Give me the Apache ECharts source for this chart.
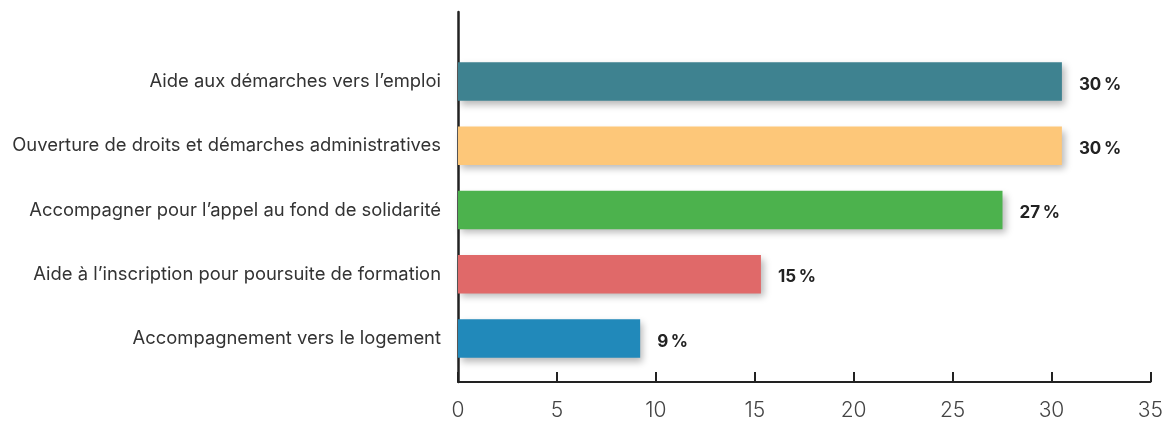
<!DOCTYPE html>
<html>
<head>
<meta charset="utf-8">
<script src="https://cdn.jsdelivr.net/npm/echarts@6/dist/echarts.min.js"></script>
<style>html,body{margin:0;padding:0;background:#fff;}#c{width:1166px;height:421px;}</style>
</head>
<body>
<div id="c"></div>
<script>
const categories = [
  "Aide aux démarches vers l’emploi",
  "Ouverture de droits et démarches administratives",
  "Accompagner pour l’appel au fond de solidarité",
  "Aide à l’inscription pour poursuite de formation",
  "Accompagnement vers le logement"
];
const values = [30.5, 30.5, 27.5, 15.3, 9.2];
const valueLabels = ["30\u2009%", "30\u2009%", "27\u2009%", "15\u2009%", "9\u2009%"];
const colors = ["#3E8290", "#FDC779", "#4CB24D", "#E06969", "#2189BA"];
const xTicks = [0, 5, 10, 15, 20, 25, 30, 35];

const chart = echarts.init(document.getElementById('c'), null, {renderer: 'canvas'});
const font = "Inter, 'Noto Sans', sans-serif";
chart.setOption({
  animation: false,
  grid: [
    {left: 458, right: 15, top: 12, bottom: 23},
    {left: 458, right: 15, top: 49.4, bottom: 50.4}
  ],
  xAxis: [
    {
      gridIndex: 0, type: 'value', min: xTicks[0], max: xTicks[xTicks.length - 1], interval: 5,
      axisLine: {show: true, lineStyle: {color: '#222', width: 2}},
      axisTick: {show: true, inside: true, length: 10, lineStyle: {color: '#222', width: 2}},
      axisLabel: {color: '#444', fontSize: 21, fontWeight: 300, fontFamily: font, margin: 18},
      splitLine: {show: false}
    },
    {gridIndex: 1, type: 'value', min: 0, max: 35, show: false}
  ],
  yAxis: [
    {
      gridIndex: 0, type: 'value', min: 0, max: 1,
      axisLine: {show: true, lineStyle: {color: '#222', width: 2.5}},
      axisTick: {show: false}, axisLabel: {show: false}, splitLine: {show: false}
    },
    {
      gridIndex: 1, type: 'category', data: categories, inverse: true,
      axisLine: {show: false}, axisTick: {show: false},
      axisLabel: {color: '#333', fontSize: 18.4, fontFamily: font, margin: 17}
    }
  ],
  series: [{
    type: 'bar', xAxisIndex: 1, yAxisIndex: 1,
    barWidth: 38.5,
    data: values.map((v, i) => ({
      value: v,
      itemStyle: {color: colors[i]},
      label: {formatter: valueLabels[i]}
    })),
    itemStyle: {shadowColor: 'rgba(0,0,0,0.28)', shadowBlur: 7, shadowOffsetX: 3, shadowOffsetY: 4},
    label: {show: true, position: 'right', distance: 17, offset: [0, 3], color: '#222', fontSize: 17, fontWeight: 'bold', fontFamily: font}
  }]
});
</script>
</body>
</html>
